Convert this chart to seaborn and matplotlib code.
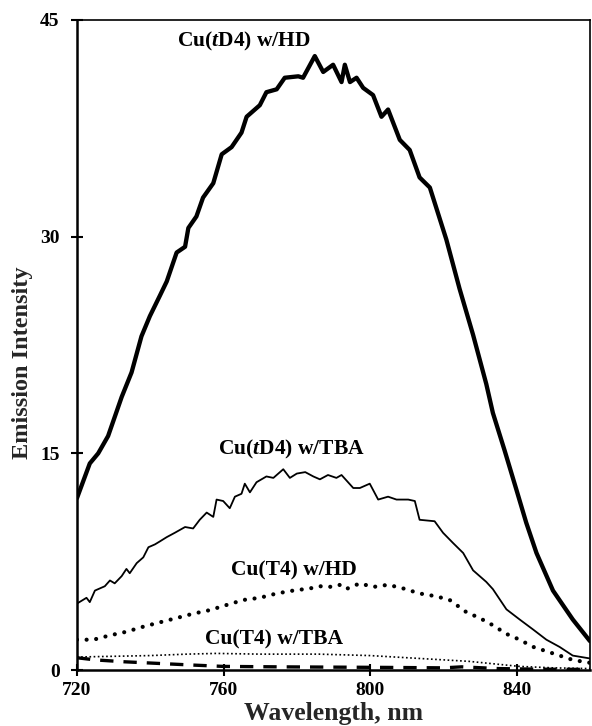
import matplotlib
matplotlib.use("Agg")
import matplotlib.pyplot as plt
import seaborn as sns

sns.set_theme(style="white")
plt.rcParams['font.family'] = ['Liberation Serif', 'DejaVu Serif']
plt.rcParams['font.weight'] = 'bold'
plt.rcParams['mathtext.fontset'] = 'custom'
plt.rcParams['mathtext.rm'] = 'Liberation Serif:bold'
plt.rcParams['mathtext.it'] = 'Liberation Serif:italic:bold'
plt.rcParams['mathtext.bf'] = 'Liberation Serif:bold'

# Cu(tD4) w/HD
hd_td4_x = [720.0, 723.5, 725.8, 728.5, 732.2, 734.9, 737.6, 739.9, 742.6, 744.5,
            747.2, 749.5, 750.4, 752.6, 754.4, 757.2, 759.5, 762.2, 764.9, 766.3,
            769.9, 771.7, 774.5, 776.7, 780.4, 781.7, 784.9, 787.2, 789.9, 792.2,
            793.1, 794.5, 796.3, 798.1, 800.8, 803.1, 804.9, 808.1, 810.8, 813.5,
            816.3, 820.8, 824.4, 828.1, 831.7, 833.5, 836.7, 839.9, 842.6, 845.4,
            849.9, 855.3, 860.0]
hd_td4_y = [11.9, 14.3, 15.0, 16.2, 18.9, 20.6, 23.1, 24.5, 25.9, 26.9,
            28.9, 29.3, 30.6, 31.4, 32.7, 33.7, 35.7, 36.2, 37.2, 38.3,
            39.1, 40.0, 40.2, 41.0, 41.1, 41.0, 42.5, 41.4, 41.9, 40.7,
            41.9, 40.7, 41.0, 40.3, 39.8, 38.3, 38.8, 36.7, 36.0, 34.1,
            33.4, 29.8, 26.4, 23.2, 19.8, 17.8, 15.2, 12.5, 10.2, 8.1,
            5.5, 3.5, 2.0]

# Cu(tD4) w/TBA
tba_td4_x = [720.0, 722.6, 723.5, 724.9, 727.6, 729.0, 730.3, 732.2, 733.5, 734.4,
             736.3, 738.1, 739.5, 741.3, 742.6, 744.5, 746.7, 749.5, 751.7, 753.5,
             755.4, 757.2, 758.1, 759.9, 761.7, 763.1, 764.9, 765.8, 767.2, 769.0,
             771.7, 773.6, 776.3, 778.1, 780.0, 782.3, 784.5, 786.3, 788.5, 790.8,
             792.2, 795.4, 797.2, 799.9, 802.2, 804.9, 807.2, 810.4, 812.2, 813.5,
             817.6, 819.9, 822.6, 825.4, 828.1, 831.7, 833.5, 837.2, 840.8, 844.5,
             848.1, 851.7, 855.3, 860.0]
tba_td4_y = [4.6, 5.0, 4.7, 5.5, 5.8, 6.2, 6.0, 6.5, 7.0, 6.7,
             7.4, 7.8, 8.5, 8.7, 8.9, 9.2, 9.5, 9.9, 9.8, 10.4,
             10.9, 10.6, 11.8, 11.7, 11.2, 12.0, 12.2, 12.9, 12.3, 13.0,
             13.4, 13.3, 13.9, 13.3, 13.6, 13.7, 13.4, 13.2, 13.5, 13.3,
             13.5, 12.6, 12.6, 12.9, 11.8, 12.0, 11.8, 11.8, 11.7, 10.4,
             10.3, 9.5, 8.8, 8.1, 6.9, 6.1, 5.6, 4.2, 3.5, 2.8,
             2.1, 1.6, 1.0, 0.8]

# Cu(T4) w/HD
hd_t4_x = [720.0, 724.5, 729.0, 733.5, 738.1, 742.6, 747.2, 751.7, 756.3, 760.8,
           765.4, 769.9, 774.5, 779.0, 783.6, 786.3, 788.9, 791.6, 793.4, 797.2,
           800.8, 804.9, 809.0, 813.5, 818.1, 821.7, 826.3, 829.9, 833.5, 837.2,
           840.8, 844.5, 849.9, 855.3, 860.0]
hd_t4_y = [2.1, 2.1, 2.4, 2.65, 3.0, 3.3, 3.6, 3.9, 4.15, 4.5,
           4.85, 5.0, 5.3, 5.5, 5.65, 5.8, 5.75, 5.9, 5.6, 6.0,
           5.75, 5.9, 5.65, 5.3, 5.1, 4.85, 4.0, 3.6, 3.1, 2.5,
           2.1, 1.6, 1.15, 0.7, 0.5]

# Cu(T4) w/TBA
tba_t4_x = [720.0, 730.0, 740.0, 750.0, 758.0, 770.0, 786.0, 800.0, 813.5, 827.0,
            840.8, 850.0, 860.0]
tba_t4_y = [0.9, 0.95, 1.0, 1.1, 1.15, 1.1, 1.1, 1.0, 0.8, 0.6,
            0.25, 0.15, 0.1]

# dashed trace
dash_x = [720.0, 725.0, 733.0, 742.0, 751.0, 760.0, 775.0, 790.0, 805.0, 820.0,
          825.0, 835.0, 845.0, 860.0]
dash_y = [0.85, 0.7, 0.57, 0.46, 0.35, 0.25, 0.22, 0.2, 0.18, 0.15,
          0.22, 0.1, 0.06, 0.04]

labels = ["Cu($\\mathit{t}$D4) w/HD", "Cu($\\mathit{t}$D4) w/TBA",
          "Cu(T4) w/HD", "Cu(T4) w/TBA"]
label_x = [765.5, 778.5, 779.1, 773.9]
label_y = [43.5, 15.3, 6.9, 2.1]

x_ticks = [720, 760, 800, 840]
y_ticks = [0, 15, 30, 45]

fig = plt.figure(figsize=(5.92, 7.26), dpi=100)
ax = fig.add_axes([0.130, 0.0771, 0.8666, 0.8954])

sns.lineplot(x=hd_td4_x, y=hd_td4_y, ax=ax, color='black', linewidth=3.1,
             sort=False, solid_joinstyle='round')
sns.lineplot(x=tba_td4_x, y=tba_td4_y, ax=ax, color='black', linewidth=1.3,
             sort=False)
sns.lineplot(x=hd_t4_x, y=hd_t4_y, ax=ax, color='black', linewidth=3.0,
             linestyle=(0, (0.01, 2.3)), dash_capstyle='round', sort=False)
sns.lineplot(x=tba_t4_x, y=tba_t4_y, ax=ax, color='black', linewidth=1.2,
             linestyle=(0, (1, 1.5)), sort=False)
sns.lineplot(x=dash_x, y=dash_y, ax=ax, color='black', linewidth=2.4,
             linestyle=(0, (4, 3)), sort=False)

for t, lx, ly in zip(labels, label_x, label_y):
    ax.text(lx, ly, t, ha='center', va='center', fontsize=15.5,
            fontweight='bold', color='black')

ax.set_xlim(720, 860)
ax.set_ylim(0, 45)
ax.set_xticks(x_ticks)
ax.set_yticks(y_ticks)
ax.set_xticklabels([str(v) for v in x_ticks], fontsize=14, fontweight='bold')
ax.set_yticklabels([str(v) for v in y_ticks], fontsize=14, fontweight='bold')
ax.tick_params(axis='both', direction='inout', length=9, width=1.5,
               colors='black', bottom=True, left=True)
ax.tick_params(axis='x', pad=4)
ax.tick_params(axis='y', pad=8)
ax.set_xlabel("Wavelength, nm", fontsize=18.5, fontweight='bold', labelpad=2)
ax.set_ylabel("Emission Intensity", fontsize=17.5, fontweight='bold')
ax.yaxis.set_label_coords(-0.086, 0.472)

for side in ['left', 'bottom']:
    ax.spines[side].set_linewidth(1.8)
    ax.spines[side].set_color('black')
for side in ['top', 'right']:
    ax.spines[side].set_linewidth(1.2)
    ax.spines[side].set_color('black')
ax.grid(False)

fig.savefig("out.png", dpi=100)
